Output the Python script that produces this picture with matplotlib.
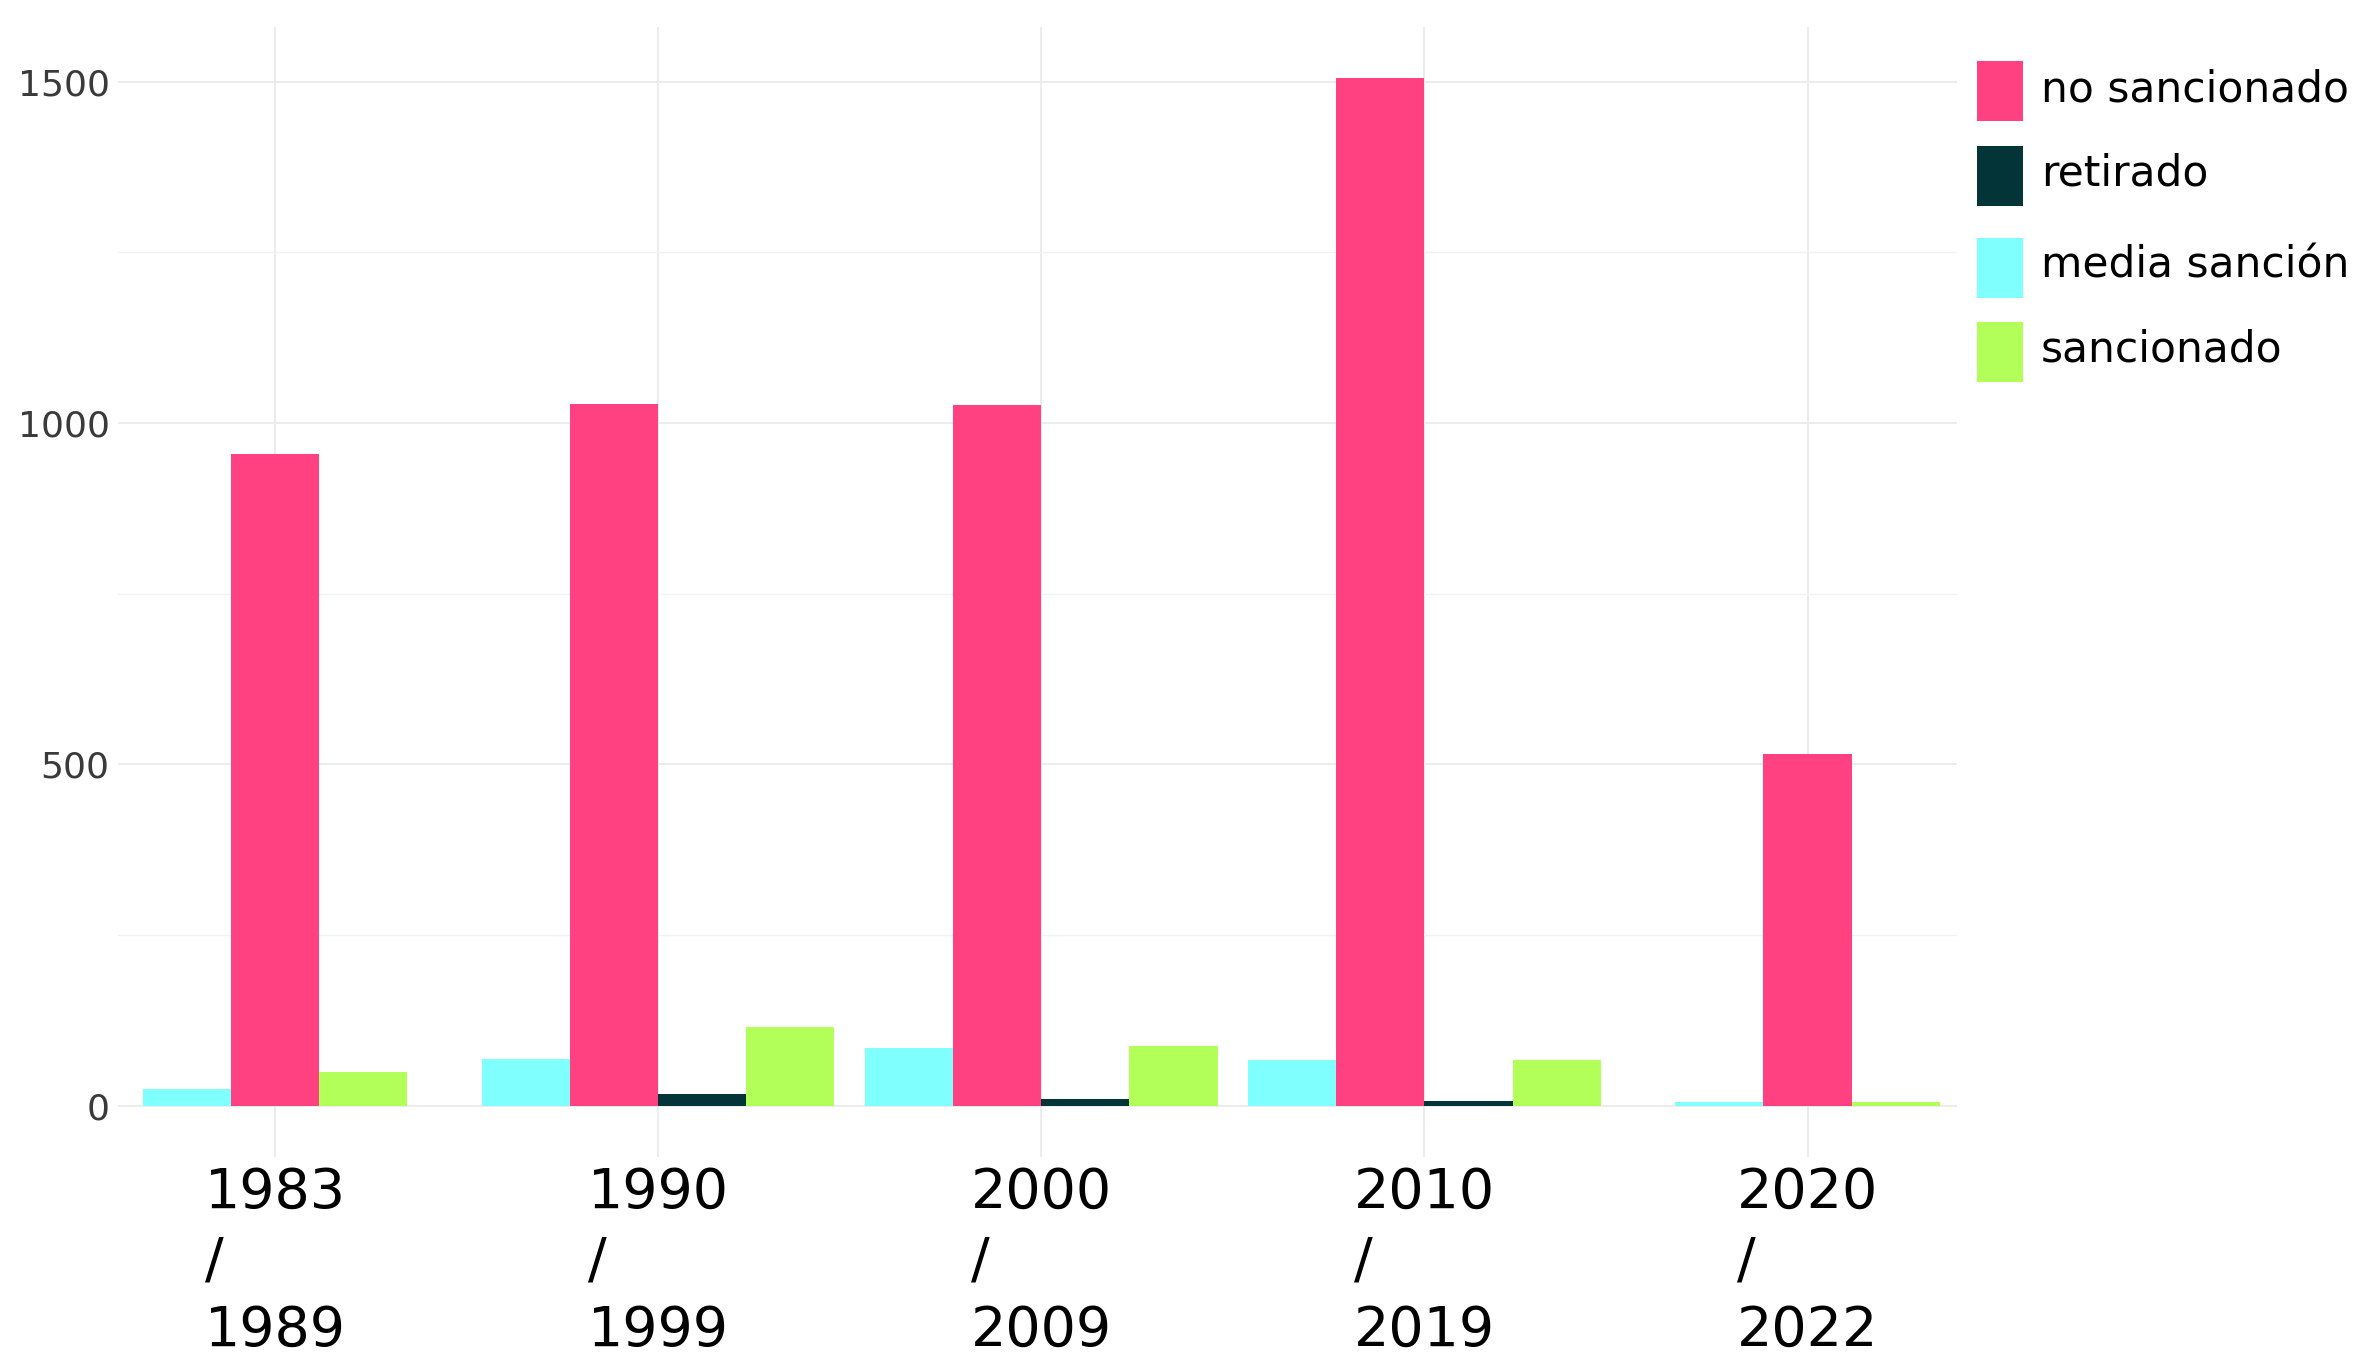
import numpy as np
import matplotlib.pyplot as plt
import matplotlib.patches as mpatches

# data
periodos = ['1983\n/\n1989', '1990\n/\n1999', '2000\n/\n2009', '2010\n/\n2019', '2020\n/\n2022']
media_sancion = [25, 69, 85, 67, 6]
no_sancionado = [955, 1028, 1027, 1505, 516]
retirado = [None, 18, 10, 7, None]
sancionado = [50, 115, 88, 67, 6]

series = ['media sanción', 'no sancionado', 'retirado', 'sancionado']
valores = [media_sancion, no_sancionado, retirado, sancionado]
colores = {'media sanción': '#80FFFF', 'no sancionado': '#FF4081',
           'retirado': '#033538', 'sancionado': '#B2FF59'}

plt.rcParams['font.family'] = ['DejaVu Sans']

W, H = 2379, 1358
fig = plt.figure(figsize=(W / 100, H / 100), dpi=100)
ax = fig.add_axes([0.0496, 0.148, 0.773, 0.832])

w = 0.23
for g in range(len(periodos)):
    presentes = [(s, v[g]) for s, v in zip(series, valores) if v[g] is not None]
    n = len(presentes)
    for i, (s, val) in enumerate(presentes):
        ax.bar(g + (i - (n - 1) / 2) * w, val, width=w, color=colores[s],
               linewidth=0, zorder=2)

ax.set_xlim(-0.41, 4.39)
ax.set_ylim(-75, 1580)
ax.set_yticks([0, 500, 1000, 1500])
ax.set_yticks([250, 750, 1250], minor=True)
ax.set_xticks(range(len(periodos)))
ax.set_xticklabels(periodos, fontsize=40, linespacing=1.36,
                   multialignment='left', color='black')
ax.tick_params(axis='y', which='both', length=0, labelsize=26,
               labelcolor='#3a3a3a', pad=6)
ax.tick_params(axis='x', length=0, pad=6)

ax.grid(True, which='major', color='#ebebeb', linewidth=1.3, zorder=0)
ax.grid(True, which='minor', axis='y', color='#f2f2f2', linewidth=1.0, zorder=0)
for sp in ax.spines.values():
    sp.set_visible(False)

# legend drawn by hand (pixel layout)
orden = ['no sancionado', 'retirado', 'media sanción', 'sancionado']
tops = [61, 146, 238, 322]
baselines = [102, 186, 278, 362]
for s, t, b in zip(orden, tops, baselines):
    fig.patches.append(mpatches.Rectangle((1977 / W, 1 - (t + 60) / H), 46 / W, 60 / H,
                                          transform=fig.transFigure, color=colores[s],
                                          linewidth=0))
    fig.text(2041 / W, 1 - b / H, s, fontsize=30.5, color='black', va='baseline')

fig.savefig('out.png', dpi=100)
